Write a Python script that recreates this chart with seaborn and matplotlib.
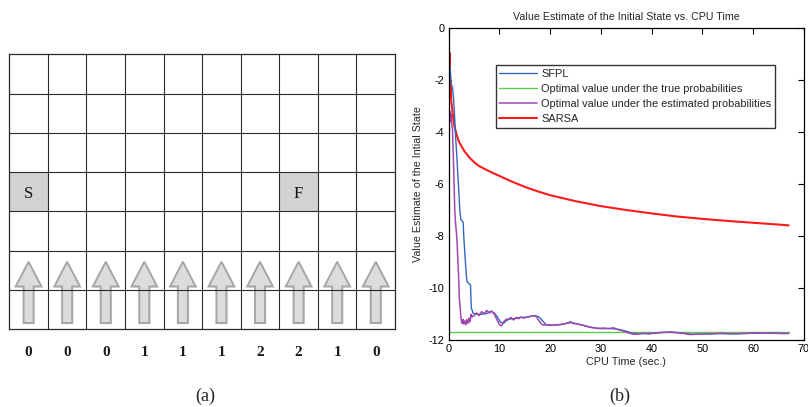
import numpy as np
import pandas as pd
import matplotlib
matplotlib.use("Agg")
import matplotlib.pyplot as plt
from matplotlib.colors import ListedColormap
from matplotlib.patches import Polygon
import seaborn as sns

# ---------------- data ----------------
# windy grid world (7 rows x 10 columns)
n_rows, n_cols = 7, 10
wind = [0, 0, 0, 1, 1, 1, 2, 2, 1, 0]
start_cell = (3, 0)
goal_cell = (3, 7)

# value estimate of the initial state vs CPU time
sarsa_t = [0, 0.1, 0.2, 0.3, 0.4, 0.5, 0.7, 1.0, 1.5, 2, 3, 4, 5, 6, 8, 10,
           12.5, 15, 17.5, 20, 25, 30, 35, 40, 45, 50, 55, 60, 65, 67]
sarsa_v = [0, -1.6, -0.95, -2.3, -2.0, -2.8, -3.1, -3.65, -4.05, -4.35, -4.7,
           -4.95, -5.15, -5.3, -5.5, -5.68, -5.9, -6.1, -6.27, -6.42, -6.65,
           -6.84, -6.99, -7.12, -7.24, -7.33, -7.41, -7.48, -7.55, -7.58]

sfpl_t = [0.1, 0.2, 0.3, 0.45, 0.6, 0.8, 1.0, 1.2, 1.4, 1.6, 1.8, 2.0, 2.2,
          2.4, 2.6, 2.85, 3.0, 3.2, 3.4, 3.6, 3.9, 4.3, 4.45, 4.8, 5.5, 6.5,
          7.5, 8.3, 9.0, 9.6, 10.2, 10.8, 11.3, 12, 13, 14, 15, 16, 17, 17.8,
          18.5, 19.2, 20, 22, 24, 25, 26.5, 28, 30, 32, 33.5, 35, 36, 37.5,
          40, 42, 44, 46, 48, 50, 53, 56, 60, 63, 67]
sfpl_v = [-1.3, -1.7, -1.5, -2.1, -2.2, -2.35, -2.8, -3.5, -4.3, -4.9, -5.6,
          -6.3, -7.0, -7.35, -7.4, -7.45, -8.1, -8.7, -9.3, -9.75, -9.8, -9.87,
          -10.75, -10.95, -11.0, -11.0, -10.97, -10.88, -10.95, -11.1, -11.3,
          -11.35, -11.25, -11.18, -11.17, -11.12, -11.12, -11.08, -11.05,
          -11.1, -11.25, -11.4, -11.42, -11.4, -11.32, -11.35, -11.43, -11.5,
          -11.55, -11.55, -11.58, -11.65, -11.72, -11.75, -11.73, -11.7,
          -11.68, -11.72, -11.77, -11.76, -11.74, -11.75, -11.73, -11.72,
          -11.74]

true_t = [0, 67]
true_v = [-11.67, -11.67]

est_t = [0.1, 0.2, 0.3, 0.4, 0.5, 0.6, 0.75, 0.9, 1.05, 1.2, 1.35, 1.5, 1.65,
         1.8, 1.95, 2.1, 2.25, 2.4, 2.55, 2.7, 2.85, 3.0, 3.2, 3.4, 3.6, 3.8,
         4.0, 4.2, 4.4, 4.6, 5.0, 5.5, 6.0, 6.5, 7.0, 7.5, 8.0, 8.5, 9.0, 9.5,
         10.0, 10.4, 10.8, 11.3, 11.8, 12.3, 12.8, 13.3, 13.8, 14.3, 14.8,
         15.3, 15.8, 16.3, 16.8, 17.3, 17.8, 18.3, 18.8, 19.5, 20.5, 21.5,
         22.5, 23.5, 24.0, 24.5, 25.5, 26.5, 27.5, 28.5, 29.5, 30.5, 31.5,
         32.5, 33.5, 34.5, 35.5, 36.5, 37.5, 38.5, 39.5, 40.5, 42, 43.5, 45,
         46.5, 47.5, 48.5, 50, 52, 54, 56, 58, 60, 62, 64, 66, 67]
est_v = [-3.3, -3.6, -3.2, -3.5, -3.3, -3.7, -3.9, -4.8, -5.9, -7.0, -7.5,
         -7.8, -8.2, -8.9, -9.5, -10.4, -10.7, -11.1, -11.3, -11.35, -11.2,
         -11.38, -11.25, -11.4, -11.2, -11.35, -11.15, -11.3, -11.0, -11.1,
         -11.05, -10.95, -11.05, -10.9, -10.97, -10.85, -10.95, -10.88, -11.0,
         -11.2, -11.4, -11.45, -11.3, -11.2, -11.18, -11.12, -11.22, -11.12,
         -11.17, -11.1, -11.15, -11.12, -11.1, -11.07, -11.05, -11.1, -11.25,
         -11.38, -11.42, -11.4, -11.42, -11.4, -11.38, -11.33, -11.28, -11.35,
         -11.38, -11.42, -11.48, -11.52, -11.55, -11.53, -11.55, -11.52,
         -11.6, -11.65, -11.72, -11.77, -11.75, -11.73, -11.76, -11.72, -11.7,
         -11.69, -11.71, -11.74, -11.78, -11.77, -11.76, -11.75, -11.73,
         -11.75, -11.74, -11.72, -11.71, -11.73, -11.74, -11.73]

series_labels = ["SFPL", "Optimal value under the true probabilities",
                 "Optimal value under the estimated probabilities", "SARSA"]
series_colors = ["#3068c0", "#5ccc50", "#a048b0", "#ff1a1a"]

# ---------------- figure ----------------
sns.set_style("white")
plt.rcParams["font.family"] = ["Liberation Sans", "DejaVu Sans"]
plt.rcParams["axes.unicode_minus"] = False

fig = plt.figure(figsize=(8.08, 4.07), dpi=100)

# left panel: grid world drawn as a heatmap
ax1 = fig.add_axes([0.0115, 0.1909, 0.4774, 0.6757])
cells = np.zeros((n_rows, n_cols))
cells[start_cell] = 1
cells[goal_cell] = 1
sns.heatmap(cells, ax=ax1, cmap=ListedColormap(["white", "#d2d2d2"]),
            cbar=False, linewidths=0, square=False)
ax1.set_xticks([])
ax1.set_yticks([])
grid_color = "#2a2a2a"
ax1.hlines(range(1, n_rows), 0, n_cols, colors=grid_color, linewidth=0.8,
           zorder=6)
ax1.vlines(range(1, n_cols), 0, n_rows, colors=grid_color, linewidth=0.8,
           zorder=6)
for s in ax1.spines.values():
    s.set_visible(True)
    s.set_color(grid_color)
    s.set_linewidth(0.9)

serif = ["Liberation Serif", "DejaVu Serif"]
for (r, c), lab in [(start_cell, "S"), (goal_cell, "F")]:
    ax1.text(c + 0.5, r + 0.55, lab, ha="center", va="center",
             fontsize=12, family=serif, color="#111")

# upward wind arrows in the two bottom rows
tip, head_base, tail = 5.28, 5.91, 6.84
hw, sw = 0.333, 0.13
for c in range(n_cols):
    cx = c + 0.5
    pts = [(cx, tip), (cx + hw, head_base), (cx + sw, head_base),
           (cx + sw, tail), (cx - sw, tail), (cx - sw, head_base),
           (cx - hw, head_base)]
    shadow = Polygon([(x + 0.035, y + 0.03) for x, y in pts], closed=True,
                     facecolor="#00000018", edgecolor="none", zorder=3)
    ax1.add_patch(shadow)
    ax1.add_patch(Polygon(pts, closed=True, facecolor="#dcdcdc",
                          edgecolor="#a6a6a6", linewidth=1.4, zorder=4))

for c, w in enumerate(wind):
    ax1.text(c + 0.5, 7.58, str(w), ha="center", va="center", fontsize=11,
             family=serif, weight="bold", color="#1a1a1a", clip_on=False)

fig.text(205 / 808, 1 - 396 / 407, "(a)", ha="center", va="center",
         fontsize=13, family=serif)
fig.text(620 / 808, 1 - 396 / 407, "(b)", ha="center", va="center",
         fontsize=13, family=serif)

# right panel: value estimate curves
ax2 = fig.add_axes([0.5553, 0.1639, 0.4397, 0.7666])
curves = [(sfpl_t, sfpl_v, 1.0), (true_t, true_v, 1.0),
          (est_t, est_v, 1.1), (sarsa_t, sarsa_v, 1.5)]
order = [1, 3, 0, 2]
for i in order:
    t, v, lw = curves[i]
    df = pd.DataFrame({"t": t, "v": v})
    sns.lineplot(data=df, x="t", y="v", ax=ax2, color=series_colors[i],
                 linewidth=lw, sort=False, estimator=None,
                 label=series_labels[i])

ax2.set_xlim(0, 70)
ax2.set_ylim(-12, 0)
ax2.set_xticks(range(0, 71, 10))
ax2.set_yticks(range(-12, 1, 2))
ax2.tick_params(direction="in", top=True, right=True, length=4, width=0.8,
                labelsize=7.8, pad=3, colors="black")
for s in ax2.spines.values():
    s.set_color("black")
    s.set_linewidth(0.9)
ax2.set_title("Value Estimate of the Initial State vs. CPU Time",
              fontsize=7.7, pad=6)
ax2.set_xlabel("CPU Time (sec.)", fontsize=7.8, labelpad=2)
ax2.set_ylabel("Value Estimate of the Intial State", fontsize=7.7,
               labelpad=4)

handles, labels = ax2.get_legend_handles_labels()
lookup = dict(zip(labels, handles))
leg = ax2.legend([lookup[l] for l in series_labels], series_labels,
                 loc="upper left", bbox_to_anchor=(0.132, 0.882),
                 borderaxespad=0, fontsize=7.9, frameon=True, fancybox=False,
                 edgecolor="black", handlelength=3.4, handletextpad=0.4,
                 labelspacing=0.45, borderpad=0.35)
leg.get_frame().set_linewidth(1.0)

fig.savefig("out.png", dpi=100)
